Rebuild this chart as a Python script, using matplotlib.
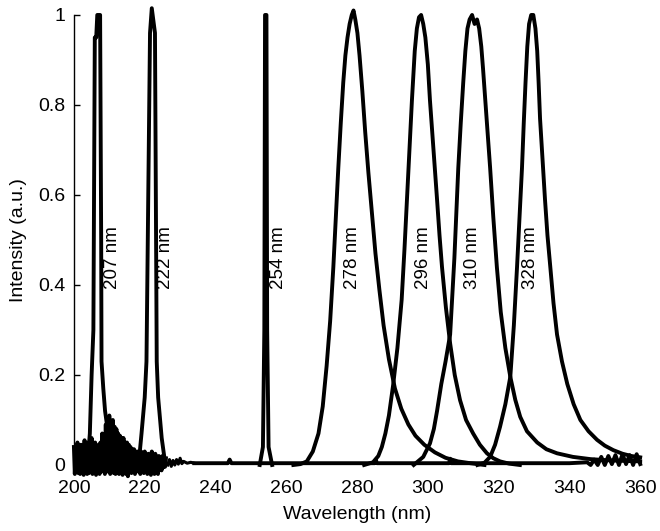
import numpy as np
import matplotlib
matplotlib.use("Agg")
from matplotlib import pyplot as plt

plt.rcParams['font.family'] = ['Liberation Sans', 'DejaVu Sans']

# peak shapes (wavelength nm, normalised intensity)
wl_207 = [204.0, 204.5, 205.0, 205.5, 205.9, 206.3, 206.6, 207.4, 207.7, 207.8, 208.3, 208.8, 209.5]
int_207 = [0.02, 0.07, 0.2, 0.3, 0.95, 0.95, 1.0, 1.0, 0.5, 0.23, 0.17, 0.12, 0.08]

wl_222 = [218.5, 219.1, 220.0, 220.5, 221.5, 222.0, 222.9, 223.4, 223.8, 224.8, 225.5]
int_222 = [0.02, 0.07, 0.15, 0.23, 0.96, 1.015, 0.96, 0.23, 0.15, 0.06, 0.02]

wl_254 = [252.5, 253.4, 253.8, 254.0, 254.4, 254.6, 255.0, 256.0]
int_254 = [0.0, 0.04, 0.3, 1.0, 1.0, 0.3, 0.04, 0.0]

wl_278 = [262.0, 264.0, 265.8, 267.5, 269.1, 270.3, 271.4, 272.4, 273.3, 274.0, 274.7,
          275.4, 276.1, 276.7, 277.3, 277.9, 278.5, 279.0, 279.5, 280.1, 280.7, 281.5,
          282.3, 283.2, 284.2, 285.2, 286.3, 287.5, 289.0, 290.7, 292.5, 294.5, 296.5,
          299.0, 302.0, 305.0, 308.5, 312.0, 316.0]
int_278 = [0.0, 0.002, 0.008, 0.03, 0.07, 0.13, 0.22, 0.32, 0.44, 0.55, 0.66,
           0.76, 0.85, 0.91, 0.95, 0.98, 1.0, 1.01, 0.99, 0.96, 0.91, 0.83,
           0.74, 0.65, 0.56, 0.47, 0.39, 0.31, 0.235, 0.17, 0.125, 0.09, 0.065,
           0.045, 0.028, 0.016, 0.008, 0.004, 0.0]

wl_296 = [282.0, 284.5, 286.0, 287.0, 288.0, 289.0, 290.2, 291.4, 292.6, 293.4, 294.1,
          294.8, 295.5, 296.3, 296.9, 297.5, 298.1, 298.7, 299.3, 300.0, 300.6, 301.6,
          302.6, 303.3, 304.0, 305.1, 306.3, 307.6, 309.1, 310.8, 312.8, 314.7, 316.7,
          318.5, 320.4, 323.0, 326.0]
int_296 = [0.0, 0.006, 0.02, 0.04, 0.07, 0.11, 0.178, 0.26, 0.367, 0.48, 0.59,
           0.70, 0.81, 0.92, 0.97, 0.995, 1.0, 0.98, 0.95, 0.89, 0.81, 0.70,
           0.59, 0.51, 0.44, 0.35, 0.27, 0.2, 0.144, 0.1, 0.07, 0.045, 0.026,
           0.015, 0.008, 0.003, 0.0]

wl_310 = [296.0, 298.7, 300.6, 301.7, 302.6, 303.8, 305.0, 306.3, 307.5, 308.6, 309.3,
          310.0, 310.6, 311.2, 311.8, 312.5, 313.2, 313.9, 314.5, 315.1, 315.6, 316.6,
          317.6, 318.5, 319.5, 320.6, 321.9, 323.3, 324.7, 326.1, 328.0, 330.9, 333.5,
          336.5, 341.0, 346.0, 352.0, 360.0]
int_310 = [0.0, 0.018, 0.048, 0.08, 0.12, 0.18, 0.23, 0.29, 0.46, 0.66, 0.76,
           0.85, 0.92, 0.97, 0.99, 1.0, 0.98, 0.99, 0.97, 0.93, 0.88, 0.77,
           0.66, 0.55, 0.44, 0.34, 0.26, 0.196, 0.145, 0.107, 0.075, 0.05, 0.035,
           0.026, 0.018, 0.013, 0.01, 0.008]

wl_328 = [314.0, 316.0, 317.6, 319.0, 320.4, 321.9, 323.3, 324.3, 325.2, 325.9, 326.6,
          327.1, 327.6, 328.1, 328.6, 329.2, 329.8, 330.4, 330.9, 331.3, 331.7, 332.4,
          333.1, 333.8, 334.6, 335.5, 336.5, 337.9, 339.4, 341.2, 343.1, 345.4, 347.8,
          350.0, 352.4, 355.0, 357.5, 360.0]
int_328 = [0.0, 0.005, 0.018, 0.045, 0.085, 0.135, 0.196, 0.31, 0.44, 0.55, 0.66,
           0.76, 0.85, 0.93, 0.98, 1.0, 1.0, 0.97, 0.92, 0.85, 0.77, 0.68,
           0.59, 0.51, 0.44, 0.36, 0.29, 0.23, 0.18, 0.135, 0.10, 0.075, 0.056,
           0.043, 0.033, 0.025, 0.02, 0.017]

# noisy baseline of the excimer lamps, sampled every 0.25 nm from 200 to 226 nm
noise_wl = np.arange(200.0, 226.01, 0.25)
noise_int = [0.040, -0.020, 0.030, -0.012, 0.050, -0.018, 0.035, -0.020,
             0.045, -0.010, 0.038, -0.022, 0.055, -0.015, 0.030, -0.020,
             0.050, -0.018, 0.040, -0.012, 0.060, -0.020, 0.035, -0.015,
             0.050, -0.022, 0.030, -0.012, 0.045, -0.020, 0.050, -0.015,
             0.070, -0.010, 0.060, -0.020, 0.090, -0.015, 0.080, -0.010,
             0.110, -0.020, 0.095, -0.012, 0.100, -0.018, 0.085, -0.020,
             0.080, -0.012, 0.070, -0.020, 0.065, -0.015, 0.060, -0.022,
             0.060, -0.010, 0.050, -0.020, 0.050, -0.025, 0.045, -0.012,
             0.040, -0.018, 0.035, -0.010, 0.035, -0.020, 0.030, -0.012,
             0.030, -0.015, 0.025, -0.020, 0.030, -0.010, 0.025, -0.018,
             0.030, -0.012, 0.020, -0.020, 0.025, -0.015, 0.020, -0.022,
             0.030, -0.018, 0.020, -0.020, 0.025, -0.012, 0.015, -0.020,
             0.020, -0.010, 0.015, -0.012, 0.020, -0.005, 0.012, -0.004,
             0.015]
tail_wl = [226.5, 227.0, 227.5, 228.0, 228.5, 229.0, 229.5, 230.0, 230.5, 231.0, 232.0, 233.0, 234.0]
tail_int = [0.0, 0.012, -0.003, 0.01, 0.0, 0.012, 0.002, 0.015, 0.003, 0.008, 0.004, 0.006, 0.004]

# flat baseline of the LED spectra
base_wl = [234.0, 243.5, 244.0, 244.5, 262.0, 285.0, 285.3, 285.6, 306.0, 306.3, 306.6,
           340.0, 345.0, 346.0, 347.0, 348.0, 349.0, 350.0, 351.0, 352.0, 353.0, 354.0,
           355.0, 356.0, 357.0, 358.0, 359.0, 360.0]
base_int = [0.004, 0.004, 0.012, 0.004, 0.004, 0.004, 0.012, 0.004, 0.004, 0.014, 0.004,
            0.004, 0.006, 0.0, 0.012, 0.0, 0.018, 0.0, 0.02, 0.002, 0.022, 0.0, 0.024,
            0.002, 0.022, 0.0, 0.024, 0.002]

peak_labels = ['207 nm', '222 nm', '254 nm', '278 nm', '296 nm', '310 nm', '328 nm']
label_x = [210.8, 225.8, 257.8, 278.6, 298.7, 312.5, 329.0]
label_y = 0.46

fig = plt.figure(figsize=(6.6, 5.31), dpi=100)
ax = fig.add_axes([0.112, 0.1243, 0.858, 0.8475])

lw = 2.8
ax.plot(noise_wl, noise_int, color='black', lw=lw, clip_on=False)
ax.plot(tail_wl, tail_int, color='black', lw=lw * 0.8, clip_on=False)
ax.plot(base_wl, base_int, color='black', lw=lw, clip_on=False)
for wl, inten in [(wl_207, int_207), (wl_222, int_222), (wl_254, int_254),
                  (wl_278, int_278), (wl_296, int_296), (wl_310, int_310),
                  (wl_328, int_328)]:
    ax.plot(wl, inten, color='black', lw=lw, clip_on=False, solid_joinstyle='round')

for txt, x in zip(peak_labels, label_x):
    ax.text(x, label_y, txt, rotation=90, ha='center', va='center', fontsize=13.5)

ax.set_xlim(200, 360)
ax.set_ylim(0, 1)
ax.set_xticks([200, 220, 240, 260, 280, 300, 320, 340, 360])
ax.set_yticks([0, 0.2, 0.4, 0.6, 0.8, 1])
ax.set_yticklabels(['0', '0.2', '0.4', '0.6', '0.8', '1'])
for s in ['top', 'right', 'bottom']:
    ax.spines[s].set_visible(False)
ax.spines['left'].set_linewidth(1.0)
ax.tick_params(axis='y', direction='in', length=4.5, width=1.0, pad=6, labelsize=14)
ax.tick_params(axis='x', length=0, pad=11, labelsize=14)
ax.set_xlabel('Wavelength (nm)', fontsize=14, labelpad=6)
ax.set_ylabel('Intensity (a.u.)', fontsize=14, labelpad=8)

fig.savefig('out.png', dpi=100)
